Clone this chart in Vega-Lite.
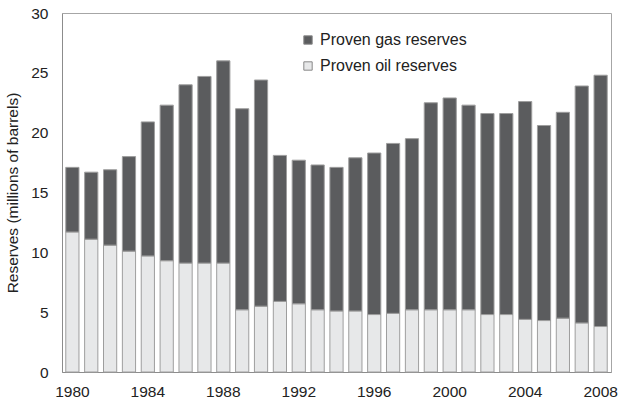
{
  "$schema": "https://vega.github.io/schema/vega-lite/v6.json",
  "autosize": {"type": "none"},
  "width": 549,
  "height": 359,
  "padding": {"left": 62, "top": 13, "right": 10, "bottom": 32},
  "background": "white",
  "config": {
    "font": "Liberation Sans",
    "view": {"stroke": "#a6a6a6", "strokeWidth": 1},
    "axis": {"grid": false, "ticks": false, "domainColor": "#8c8c8c", "labelColor": "#222", "labelFontSize": 15.5, "titleFontSize": 15.5, "titleFontWeight": "normal", "titleColor": "#222"}
  },
  "data": {
    "values": [
      {"year": "1980", "type": "Proven oil reserves", "value": 11.7},
      {"year": "1980", "type": "Proven gas reserves", "value": 5.4},
      {"year": "1981", "type": "Proven oil reserves", "value": 11.1},
      {"year": "1981", "type": "Proven gas reserves", "value": 5.6},
      {"year": "1982", "type": "Proven oil reserves", "value": 10.6},
      {"year": "1982", "type": "Proven gas reserves", "value": 6.3},
      {"year": "1983", "type": "Proven oil reserves", "value": 10.1},
      {"year": "1983", "type": "Proven gas reserves", "value": 7.9},
      {"year": "1984", "type": "Proven oil reserves", "value": 9.7},
      {"year": "1984", "type": "Proven gas reserves", "value": 11.2},
      {"year": "1985", "type": "Proven oil reserves", "value": 9.3},
      {"year": "1985", "type": "Proven gas reserves", "value": 13.0},
      {"year": "1986", "type": "Proven oil reserves", "value": 9.1},
      {"year": "1986", "type": "Proven gas reserves", "value": 14.9},
      {"year": "1987", "type": "Proven oil reserves", "value": 9.1},
      {"year": "1987", "type": "Proven gas reserves", "value": 15.6},
      {"year": "1988", "type": "Proven oil reserves", "value": 9.1},
      {"year": "1988", "type": "Proven gas reserves", "value": 16.9},
      {"year": "1989", "type": "Proven oil reserves", "value": 5.2},
      {"year": "1989", "type": "Proven gas reserves", "value": 16.8},
      {"year": "1990", "type": "Proven oil reserves", "value": 5.5},
      {"year": "1990", "type": "Proven gas reserves", "value": 18.9},
      {"year": "1991", "type": "Proven oil reserves", "value": 5.9},
      {"year": "1991", "type": "Proven gas reserves", "value": 12.2},
      {"year": "1992", "type": "Proven oil reserves", "value": 5.7},
      {"year": "1992", "type": "Proven gas reserves", "value": 12.0},
      {"year": "1993", "type": "Proven oil reserves", "value": 5.2},
      {"year": "1993", "type": "Proven gas reserves", "value": 12.1},
      {"year": "1994", "type": "Proven oil reserves", "value": 5.1},
      {"year": "1994", "type": "Proven gas reserves", "value": 12.0},
      {"year": "1995", "type": "Proven oil reserves", "value": 5.1},
      {"year": "1995", "type": "Proven gas reserves", "value": 12.8},
      {"year": "1996", "type": "Proven oil reserves", "value": 4.8},
      {"year": "1996", "type": "Proven gas reserves", "value": 13.5},
      {"year": "1997", "type": "Proven oil reserves", "value": 4.9},
      {"year": "1997", "type": "Proven gas reserves", "value": 14.2},
      {"year": "1998", "type": "Proven oil reserves", "value": 5.2},
      {"year": "1998", "type": "Proven gas reserves", "value": 14.3},
      {"year": "1999", "type": "Proven oil reserves", "value": 5.2},
      {"year": "1999", "type": "Proven gas reserves", "value": 17.3},
      {"year": "2000", "type": "Proven oil reserves", "value": 5.2},
      {"year": "2000", "type": "Proven gas reserves", "value": 17.7},
      {"year": "2001", "type": "Proven oil reserves", "value": 5.2},
      {"year": "2001", "type": "Proven gas reserves", "value": 17.1},
      {"year": "2002", "type": "Proven oil reserves", "value": 4.8},
      {"year": "2002", "type": "Proven gas reserves", "value": 16.8},
      {"year": "2003", "type": "Proven oil reserves", "value": 4.8},
      {"year": "2003", "type": "Proven gas reserves", "value": 16.8},
      {"year": "2004", "type": "Proven oil reserves", "value": 4.4},
      {"year": "2004", "type": "Proven gas reserves", "value": 18.2},
      {"year": "2005", "type": "Proven oil reserves", "value": 4.3},
      {"year": "2005", "type": "Proven gas reserves", "value": 16.3},
      {"year": "2006", "type": "Proven oil reserves", "value": 4.5},
      {"year": "2006", "type": "Proven gas reserves", "value": 17.2},
      {"year": "2007", "type": "Proven oil reserves", "value": 4.1},
      {"year": "2007", "type": "Proven gas reserves", "value": 19.8},
      {"year": "2008", "type": "Proven oil reserves", "value": 3.8},
      {"year": "2008", "type": "Proven gas reserves", "value": 21.0}
    ]
  },
  "mark": {"type": "bar", "stroke": "#9e9e9e", "strokeWidth": 1},
  "encoding": {
    "x": {
      "field": "year", "type": "ordinal",
      "scale": {"paddingInner": 0.3, "paddingOuter": 0.2},
      "axis": {"title": null, "labelAngle": 0, "labelPadding": 12, "labelExpr": "(+datum.value % 4 === 0) ? datum.label : ''"}
    },
    "y": {
      "field": "value", "type": "quantitative", "stack": "zero",
      "scale": {"domain": [0, 30], "nice": false},
      "axis": {"title": "Reserves (millions of barrels)", "values": [0, 5, 10, 15, 20, 25, 30], "labelPadding": 14, "titlePadding": 10}
    },
    "color": {
      "field": "type", "type": "nominal",
      "scale": {"domain": ["Proven gas reserves", "Proven oil reserves"], "range": ["#5b5c5e", "#e7e8e9"]},
      "legend": {"title": null, "orient": "none", "legendX": 238, "legendY": 19, "symbolType": "square", "symbolSize": 70, "symbolStrokeColor": "#888", "symbolStrokeWidth": 1, "labelFontSize": 16, "labelColor": "#222", "rowPadding": 10, "labelOffset": 4}
    },
    "order": {"field": "type", "sort": "descending"}
  }
}
